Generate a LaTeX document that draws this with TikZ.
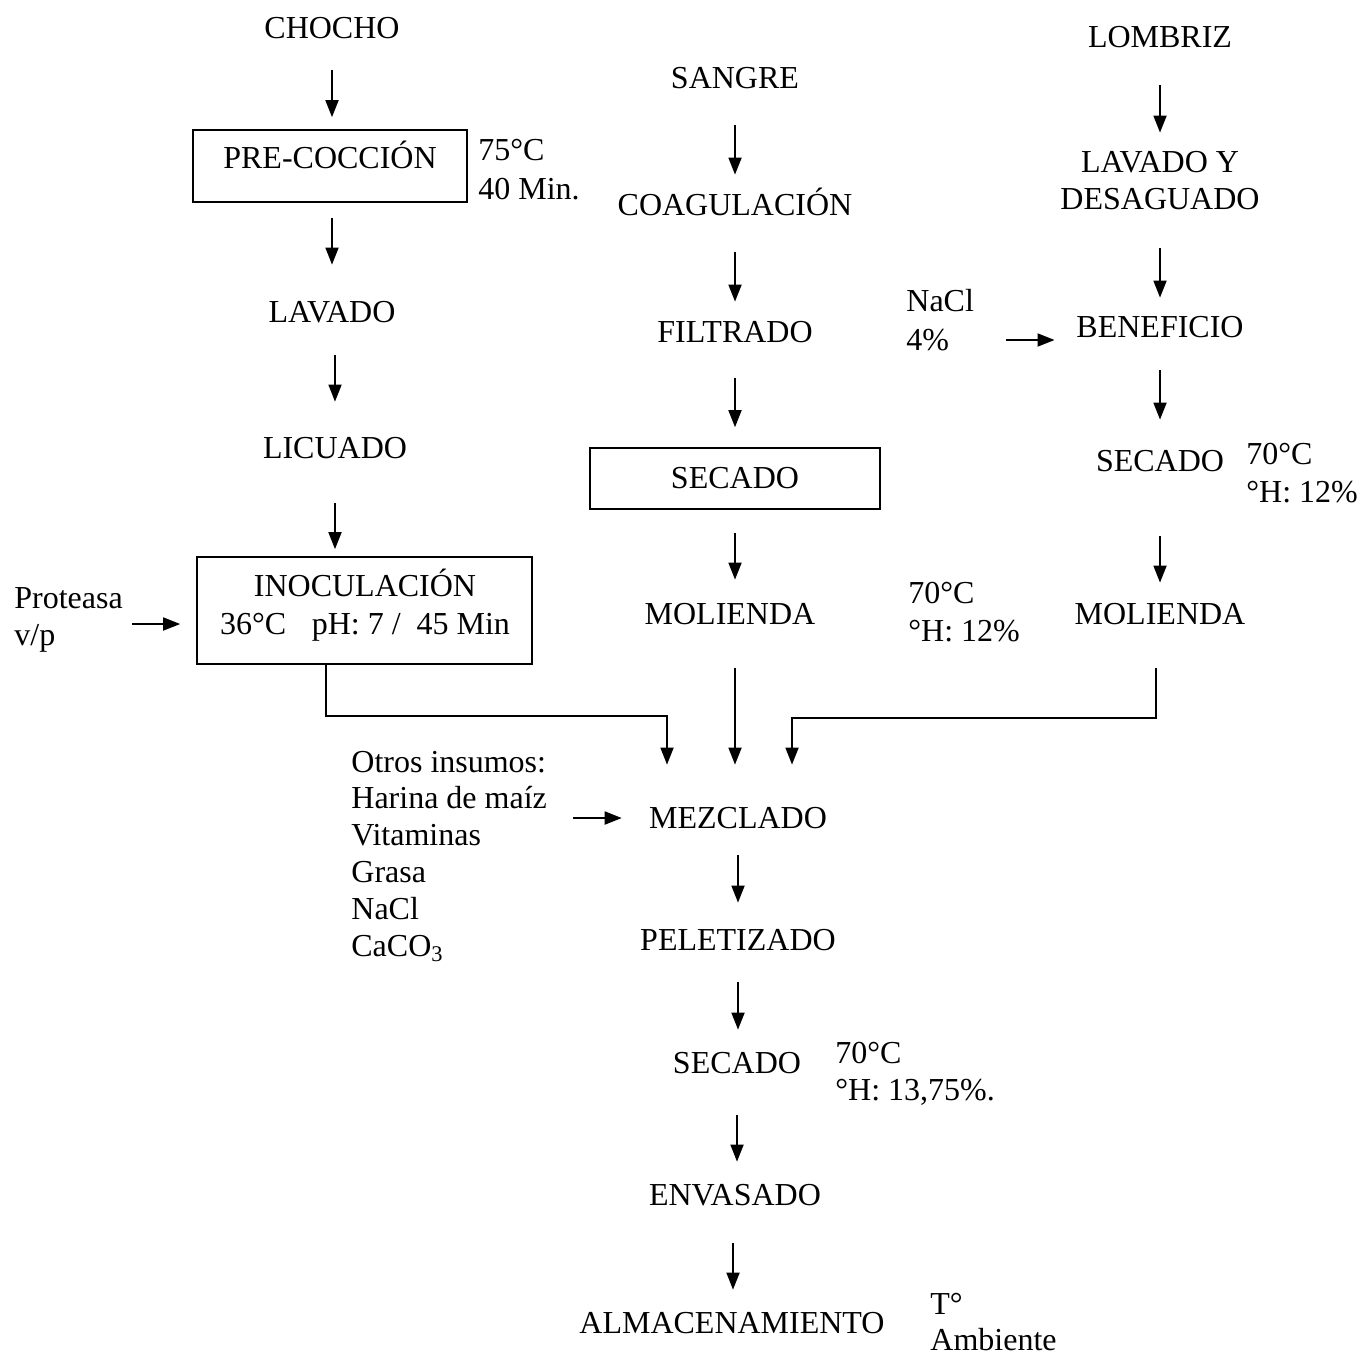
\documentclass[tikz,border=0pt]{standalone}
\usepackage{fontspec}
\setmainfont{Liberation Serif}
\usetikzlibrary{arrows.meta}
\begin{document}
\begin{tikzpicture}[x=0.5pt,y=-0.5pt,
  every node/.style={font=\fontsize{16pt}{18.4pt}\selectfont},
  lbl/.style={inner sep=0pt, text height=10.6pt, text depth=0pt},
  ann/.style={lbl, anchor=west},
  boxnode/.style={draw, line width=0.8pt, inner sep=0pt},
  arr/.style={line width=0.9pt, -{Triangle[length=8.5pt,width=6.5pt]}}
]
\useasboundingbox (0,0) rectangle (1361,1356);

% ---------- left column ----------
\node[lbl] (chocho) at (332,28) {CHOCHO};
\node[boxnode, minimum width=137pt, minimum height=36pt] (precoc) at (330,166) {};
\node[lbl] (precoct) at (330,158) {PRE-COCCIÓN};
\node[ann] (t75) at (478,150) {75°C};
\node[ann] (t40) at (478,189) {40 Min.};
\node[lbl] (lavado) at (332,312) {LAVADO};
\node[lbl] (licuado) at (335,448) {LICUADO};
\node[boxnode, minimum width=167.5pt, minimum height=53.5pt] (inoc) at (364.5,610.5) {};
\node[lbl] (inoc1) at (365,586) {INOCULACIÓN};
\node[lbl] (inoc2) at (365,624) {36°C\hspace{0.8em}pH: 7 /\ \ 45 Min};
\node[ann] (prot) at (14,598) {Proteasa};
\node[ann] (vp) at (14,635) {v/p};

% ---------- middle column ----------
\node[lbl] (sangre) at (735,78) {SANGRE};
\node[lbl] (coag) at (735,205) {COAGULACIÓN};
\node[lbl] (filt) at (735,332) {FILTRADO};
\node[boxnode, minimum width=145pt, minimum height=30.5pt] (secm) at (735,478.5) {};
\node[lbl] (secmt) at (735,478) {SECADO};
\node[lbl] (molm) at (730,614) {MOLIENDA};
\node[ann] (m70) at (908,593) {70°C};
\node[ann] (mh) at (908,631) {°H: 12\%};
\node[lbl] (mezclado) at (738,818) {MEZCLADO};
\node[lbl] (pelet) at (738,940) {PELETIZADO};
\node[lbl] (secf) at (737,1063) {SECADO};
\node[ann] (f70) at (835,1053) {70°C};
\node[ann] (fh) at (835,1090) {°H: 13,75\%.};
\node[lbl] (envas) at (735,1195) {ENVASADO};
\node[lbl] (almac) at (732,1323) {ALMACENAMIENTO};
\node[ann] (tgr) at (930,1304) {T°};
\node[ann] (amb) at (930,1340) {Ambiente};

% other inputs
\node[ann] (otros) at (351,762) {Otros insumos:};
\node[ann] (harina) at (351,798) {Harina de maíz};
\node[ann] (vitam) at (351,835) {Vitaminas};
\node[ann] (grasa) at (351,872) {Grasa};
\node[ann] (nacl2) at (351,909) {NaCl};
\node[ann] (caco) at (351,946) {CaCO\textsubscript{3}};

% ---------- right column ----------
\node[lbl] (lombriz) at (1160,37) {LOMBRIZ};
\node[lbl] (lavy1) at (1160,162) {LAVADO Y};
\node[lbl] (lavy2) at (1160,199) {DESAGUADO};
\node[lbl] (benef) at (1160,327) {BENEFICIO};
\node[ann] (nacl) at (906,301) {NaCl};
\node[ann] (pct4) at (906,340) {4\%};
\node[lbl] (secr) at (1160,461) {SECADO};
\node[ann] (r70) at (1246,454) {70°C};
\node[ann] (rh) at (1246,492) {°H: 12\%};
\node[lbl] (molr) at (1160,614) {MOLIENDA};

% ---------- arrows: left ----------
\draw[arr, shorten <=15.7pt, shorten >=6pt] (chocho.south) -- (chocho.south |- precoc.north);
\draw[arr, shorten <=7.5pt, shorten >=18.2pt] (lavado |- precoc.south) -- (lavado.north);
\draw[arr, shorten <=16.2pt, shorten >=17.7pt] (licuado |- lavado.south) -- (licuado.north);
\draw[arr, shorten <=22.2pt, shorten >=3.5pt] (licuado.south) -- (licuado |- inoc.north);
\draw[arr, shorten <=4.5pt, shorten >=8pt] (prot.east |- inoc2) -- (inoc.west |- inoc2);

% ---------- arrows: middle ----------
\draw[arr, shorten <=18.2pt, shorten >=9.7pt] (sangre.south) -- (coag.north);
\draw[arr, shorten <=18.2pt, shorten >=9.7pt] (coag.south) -- (filt.north);
\draw[arr, shorten <=17.7pt, shorten >=10pt] (filt.south) -- (secm.north);
\draw[arr, shorten <=11.5pt, shorten >=11.7pt] (secm.south) -- (secm.south |- molm.north);
\draw[arr, shorten <=21.7pt, shorten >=21.2pt] (sangre |- molm.south) -- (sangre |- mezclado.north);
\draw[arr, shorten <=13pt, shorten >=13.5pt] (harina.east |- mezclado) -- (mezclado.west);
\draw[arr, shorten <=13.2pt, shorten >=13.2pt] (mezclado.south) -- (mezclado.south |- pelet.north);
\draw[arr, shorten <=15.7pt, shorten >=11.2pt] (pelet.south) -- (pelet.south |- secf.north);
\draw[arr, shorten <=20.7pt, shorten >=11.2pt] (secf.south) -- (secf.south |- envas.north);
\draw[arr, shorten <=18.7pt, shorten >=11.2pt] ([xshift=-1pt]envas.south) -- ([xshift=-1pt]envas.south |- almac.north);

% ---------- arrows: right ----------
\draw[arr, shorten <=18.7pt, shorten >=9.2pt] (lombriz.south) -- (lavy1.north);
\draw[arr, shorten <=19.2pt, shorten >=9.2pt] (lavy2.south) -- (benef.north);
\draw[arr, shorten <=16.2pt, shorten >=15.2pt] (benef.south) -- (secr.north);
\draw[arr, shorten <=32.2pt, shorten >=10.2pt] (secr.south) -- (molr.north);
\draw[arr, shorten <=28.5pt, shorten >=10.75pt] (pct4.east) -- (pct4 -| benef.west);

% ---------- merging lines into MEZCLADO ----------
\coordinate (jl) at (667,716);
\coordinate (jr) at (792,718);
\draw[arr, shorten >=21.2pt] ([xshift=-19.25pt]inoc.south) |- (jl) -- (jl |- mezclado.north);
\draw[arr, shorten <=21.7pt, shorten >=21.2pt] ([xshift=-2pt]molr.south) |- (jr) -- (jr |- mezclado.north);
\end{tikzpicture}
\end{document}
